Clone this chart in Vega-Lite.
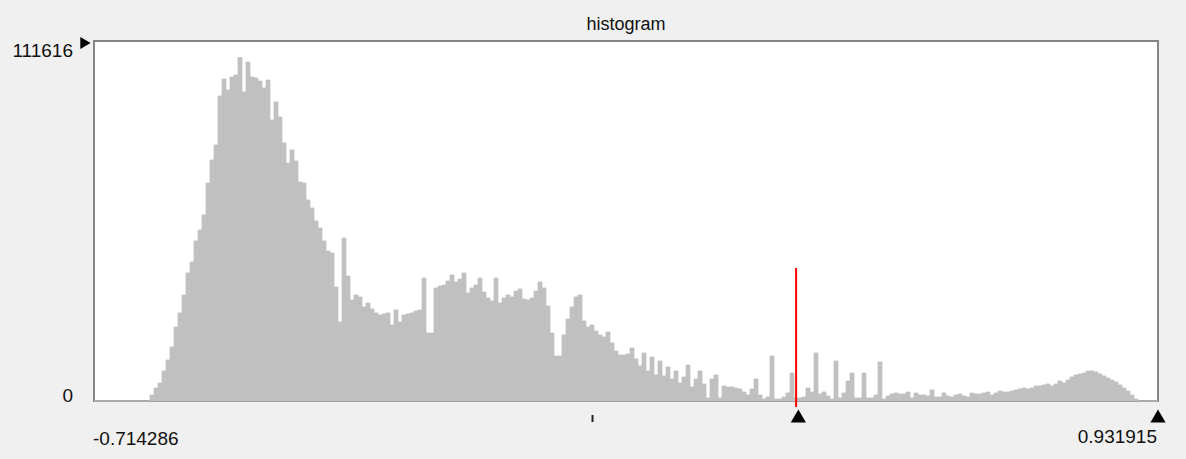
{
"$schema": "https://vega.github.io/schema/vega-lite/v6.json",
"width": 1064, "height": 360,
"autosize": {"type": "none"},
"padding": {"left": 94, "top": 41, "right": 28, "bottom": 58},
"background": "#f0f0f0",
"config": {"view": {"stroke": "#858585", "strokeWidth": 2, "fill": "white"}, "text": {"font": "Liberation Sans", "fontSize": 19, "color": "#111"}},
"datasets": {
"one": [{}],
"hist": [
{"i":0,"count":0},{"i":1,"count":0},{"i":2,"count":0},{"i":3,"count":0},{"i":4,"count":0},{"i":5,"count":0},{"i":6,"count":0},{"i":7,"count":0},{"i":8,"count":0},{"i":9,"count":0},
{"i":10,"count":0},{"i":11,"count":0},{"i":12,"count":0},{"i":13,"count":0},{"i":14,"count":1860},{"i":15,"count":4030},{"i":16,"count":5580},{"i":17,"count":9300},{"i":18,"count":12710},{"i":19,"count":16740},
{"i":20,"count":22940},{"i":21,"count":27280},{"i":22,"count":32860},{"i":23,"count":39680},{"i":24,"count":43090},{"i":25,"count":49600},{"i":26,"count":53010},{"i":27,"count":57660},{"i":28,"count":67580},{"i":29,"count":74710},
{"i":30,"count":79360},{"i":31,"count":94550},{"i":32,"count":99820},{"i":33,"count":96410},{"i":34,"count":100440},{"i":35,"count":101060},{"i":36,"count":106500},{"i":37,"count":95790},{"i":38,"count":105090},{"i":39,"count":100440},
{"i":40,"count":100130},{"i":41,"count":99200},{"i":42,"count":97030},{"i":43,"count":99510},{"i":44,"count":87110},{"i":45,"count":92690},{"i":46,"count":88040},{"i":47,"count":79980},{"i":48,"count":73780},{"i":49,"count":77810},
{"i":50,"count":74400},{"i":51,"count":67890},{"i":52,"count":67580},{"i":53,"count":62310},{"i":54,"count":59830},{"i":55,"count":55800},{"i":56,"count":53630},{"i":57,"count":49600},{"i":58,"count":46500},{"i":59,"count":45880},
{"i":60,"count":35340},{"i":61,"count":24490},{"i":62,"count":50530},{"i":63,"count":38750},{"i":64,"count":31310},{"i":65,"count":32860},{"i":66,"count":32240},{"i":67,"count":29140},{"i":68,"count":30380},{"i":69,"count":28520},
{"i":70,"count":27280},{"i":71,"count":26660},{"i":72,"count":26970},{"i":73,"count":27280},{"i":74,"count":23560},{"i":75,"count":28210},{"i":76,"count":24490},{"i":77,"count":26660},{"i":78,"count":26970},{"i":79,"count":27280},
{"i":80,"count":27900},{"i":81,"count":28210},{"i":82,"count":38130},{"i":83,"count":21080},{"i":84,"count":21080},{"i":85,"count":35030},{"i":86,"count":35650},{"i":87,"count":35960},{"i":88,"count":37200},{"i":89,"count":39060},
{"i":90,"count":36890},{"i":91,"count":37820},{"i":92,"count":39680},{"i":93,"count":33480},{"i":94,"count":35030},{"i":95,"count":35960},{"i":96,"count":38130},{"i":97,"count":33790},{"i":98,"count":31930},{"i":99,"count":31000},
{"i":100,"count":38130},{"i":101,"count":30380},{"i":102,"count":31930},{"i":103,"count":32860},{"i":104,"count":32240},{"i":105,"count":34100},{"i":106,"count":34720},{"i":107,"count":31620},{"i":108,"count":31310},{"i":109,"count":31930},
{"i":110,"count":34100},{"i":111,"count":36890},{"i":112,"count":35030},{"i":113,"count":29450},{"i":114,"count":21080},{"i":115,"count":13950},{"i":116,"count":13950},{"i":117,"count":20460},{"i":118,"count":25420},{"i":119,"count":29140},
{"i":120,"count":32240},{"i":121,"count":32860},{"i":122,"count":24800},{"i":123,"count":22940},{"i":124,"count":23560},{"i":125,"count":21700},{"i":126,"count":20460},{"i":127,"count":19840},{"i":128,"count":21390},{"i":129,"count":17980},
{"i":130,"count":15500},{"i":131,"count":14260},{"i":132,"count":14260},{"i":133,"count":14570},{"i":134,"count":16430},{"i":135,"count":13020},{"i":136,"count":10850},{"i":137,"count":14880},{"i":138,"count":9300},{"i":139,"count":13640},
{"i":140,"count":8060},{"i":141,"count":12400},{"i":142,"count":7750},{"i":143,"count":10540},{"i":144,"count":6820},{"i":145,"count":9300},{"i":146,"count":5580},{"i":147,"count":7440},{"i":148,"count":11160},{"i":149,"count":4340},
{"i":150,"count":6820},{"i":151,"count":9300},{"i":152,"count":5270},{"i":153,"count":930},{"i":154,"count":6820},{"i":155,"count":8060},{"i":156,"count":930},{"i":157,"count":4650},{"i":158,"count":4340},{"i":159,"count":4340},
{"i":160,"count":4030},{"i":161,"count":3720},{"i":162,"count":2790},{"i":163,"count":1860},{"i":164,"count":3720},{"i":165,"count":6820},{"i":166,"count":1860},{"i":167,"count":620},{"i":168,"count":1240},{"i":169,"count":13950},
{"i":170,"count":620},{"i":171,"count":620},{"i":172,"count":1240},{"i":173,"count":2480},{"i":174,"count":8680},{"i":175,"count":930},{"i":176,"count":930},{"i":177,"count":1240},{"i":178,"count":4030},{"i":179,"count":2790},
{"i":180,"count":14880},{"i":181,"count":2170},{"i":182,"count":2790},{"i":183,"count":1550},{"i":184,"count":620},{"i":185,"count":12400},{"i":186,"count":930},{"i":187,"count":2480},{"i":188,"count":6200},{"i":189,"count":8680},
{"i":190,"count":930},{"i":191,"count":930},{"i":192,"count":8680},{"i":193,"count":930},{"i":194,"count":930},{"i":195,"count":1860},{"i":196,"count":12090},{"i":197,"count":620},{"i":198,"count":1550},{"i":199,"count":2170},
{"i":200,"count":2480},{"i":201,"count":2170},{"i":202,"count":2170},{"i":203,"count":2790},{"i":204,"count":930},{"i":205,"count":2480},{"i":206,"count":1860},{"i":207,"count":1860},{"i":208,"count":1550},{"i":209,"count":3410},
{"i":210,"count":1240},{"i":211,"count":1240},{"i":212,"count":2480},{"i":213,"count":1550},{"i":214,"count":1240},{"i":215,"count":1860},{"i":216,"count":2170},{"i":217,"count":1550},{"i":218,"count":1240},{"i":219,"count":2480},
{"i":220,"count":2170},{"i":221,"count":2170},{"i":222,"count":2480},{"i":223,"count":2790},{"i":224,"count":1860},{"i":225,"count":2480},{"i":226,"count":3100},{"i":227,"count":2790},{"i":228,"count":2790},{"i":229,"count":3100},
{"i":230,"count":3410},{"i":231,"count":3720},{"i":232,"count":4030},{"i":233,"count":3720},{"i":234,"count":4030},{"i":235,"count":4650},{"i":236,"count":4650},{"i":237,"count":4960},{"i":238,"count":5270},{"i":239,"count":4650},
{"i":240,"count":5270},{"i":241,"count":6200},{"i":242,"count":5580},{"i":243,"count":6510},{"i":244,"count":7440},{"i":245,"count":8060},{"i":246,"count":8370},{"i":247,"count":8680},{"i":248,"count":9300},{"i":249,"count":9300},
{"i":250,"count":8990},{"i":251,"count":8370},{"i":252,"count":7750},{"i":253,"count":7130},{"i":254,"count":6510},{"i":255,"count":5890},{"i":256,"count":4960},{"i":257,"count":4030},{"i":258,"count":3100},{"i":259,"count":1860},
{"i":260,"count":620},{"i":261,"count":0},{"i":262,"count":0},{"i":263,"count":0},{"i":264,"count":0},{"i":265,"count":0}
]
},
"layer": [
{"data": {"name": "hist"}, "mark": {"type": "bar", "color": "#c0c0c0", "stroke": "#c0c0c0", "strokeWidth": 0.8},
 "encoding": {
  "x": {"field": "i", "type": "ordinal", "scale": {"paddingInner": 0, "paddingOuter": 0}, "axis": null},
  "y": {"field": "count", "type": "quantitative", "scale": {"domain": [0, 111616], "nice": false, "zero": false}, "axis": null}}},
{"data": {"name": "one"}, "mark": {"type": "rule", "color": "#ff0000", "strokeWidth": 2},
 "encoding": {
  "x": {"datum": 0.372, "type": "quantitative", "scale": {"domain": [-0.714286, 0.931915], "nice": false, "zero": false}, "axis": null},
  "y": {"datum": 41236, "type": "quantitative", "scale": {"domain": [0, 111616], "nice": false, "zero": false}, "axis": null},
  "y2": {"datum": -1860}}},
{"data": {"name": "one"}, "mark": {"type": "rule", "color": "#222", "strokeWidth": 2},
 "encoding": {
  "x": {"datum": 0.057, "type": "quantitative", "scale": {"domain": [-0.714286, 0.931915], "nice": false, "zero": false}, "axis": null},
  "y": {"datum": -4340, "type": "quantitative", "scale": {"domain": [0, 111616], "nice": false, "zero": false}, "axis": null},
  "y2": {"datum": -6510}}},
{"data": {"name": "one"}, "mark": {"type": "point", "shape": "triangle-up", "filled": true, "color": "#000", "opacity": 1, "size": 230},
 "encoding": {
  "x": {"datum": 0.3755, "type": "quantitative", "scale": {"domain": [-0.714286, 0.931915], "nice": false, "zero": false}, "axis": null},
  "y": {"datum": -4651, "type": "quantitative", "scale": {"domain": [0, 111616], "nice": false, "zero": false}, "axis": null}}},
{"data": {"name": "one"}, "mark": {"type": "point", "shape": "triangle-up", "filled": true, "color": "#000", "opacity": 1, "size": 230},
 "encoding": {
  "x": {"datum": 0.931915, "type": "quantitative", "scale": {"domain": [-0.714286, 0.931915], "nice": false, "zero": false}, "axis": null},
  "y": {"datum": -4651, "type": "quantitative", "scale": {"domain": [0, 111616], "nice": false, "zero": false}, "axis": null}}},
{"data": {"name": "one"}, "mark": {"type": "point", "shape": "triangle-right", "filled": true, "color": "#000", "opacity": 1, "size": 140},
 "encoding": {
  "x": {"datum": -0.7275, "type": "quantitative", "scale": {"domain": [-0.714286, 0.931915], "nice": false, "zero": false}, "axis": null},
  "y": {"datum": 111000, "type": "quantitative", "scale": {"domain": [0, 111616], "nice": false, "zero": false}, "axis": null}}},
{"data": {"name": "one"}, "mark": {"type": "text", "text": "histogram", "align": "center", "baseline": "alphabetic", "fontSize": 18},
 "encoding": {
  "x": {"datum": 0.1088145, "type": "quantitative", "scale": {"domain": [-0.714286, 0.931915], "nice": false, "zero": false}, "axis": null},
  "y": {"datum": 115180, "type": "quantitative", "scale": {"domain": [0, 111616], "nice": false, "zero": false}, "axis": null}}},
{"data": {"name": "one"}, "mark": {"type": "text", "text": "111616", "align": "right", "baseline": "alphabetic", "dx": -21},
 "encoding": {
  "x": {"datum": -0.714286, "type": "quantitative", "scale": {"domain": [-0.714286, 0.931915], "nice": false, "zero": false}, "axis": null},
  "y": {"datum": 106654, "type": "quantitative", "scale": {"domain": [0, 111616], "nice": false, "zero": false}, "axis": null}}},
{"data": {"name": "one"}, "mark": {"type": "text", "text": "0", "align": "right", "baseline": "alphabetic", "dx": -21},
 "encoding": {
  "x": {"datum": -0.714286, "type": "quantitative", "scale": {"domain": [-0.714286, 0.931915], "nice": false, "zero": false}, "axis": null},
  "y": {"datum": -310, "type": "quantitative", "scale": {"domain": [0, 111616], "nice": false, "zero": false}, "axis": null}}},
{"data": {"name": "one"}, "mark": {"type": "text", "text": "-0.714286", "align": "left", "baseline": "alphabetic", "dx": -1},
 "encoding": {
  "x": {"datum": -0.714286, "type": "quantitative", "scale": {"domain": [-0.714286, 0.931915], "nice": false, "zero": false}, "axis": null},
  "y": {"datum": -13642, "type": "quantitative", "scale": {"domain": [0, 111616], "nice": false, "zero": false}, "axis": null}}},
{"data": {"name": "one"}, "mark": {"type": "text", "text": "0.931915", "align": "right", "baseline": "alphabetic", "dx": -1},
 "encoding": {
  "x": {"datum": 0.931915, "type": "quantitative", "scale": {"domain": [-0.714286, 0.931915], "nice": false, "zero": false}, "axis": null},
  "y": {"datum": -13022, "type": "quantitative", "scale": {"domain": [0, 111616], "nice": false, "zero": false}, "axis": null}}}
],
"resolve": {"scale": {"x": "independent"}}
}
